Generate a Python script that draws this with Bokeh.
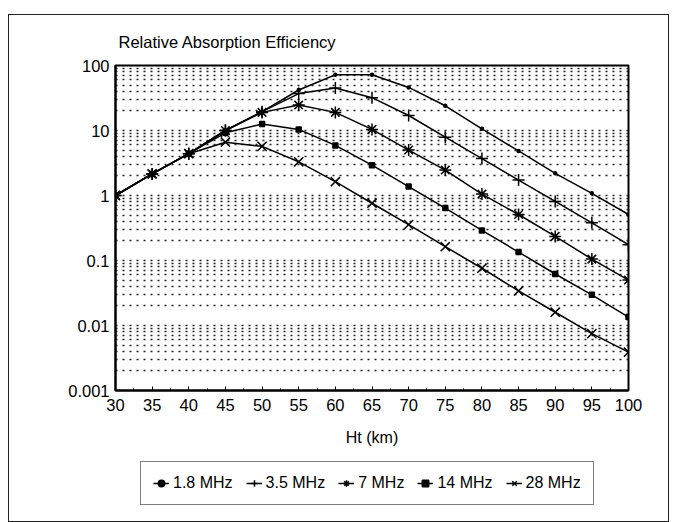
from bokeh.plotting import figure
from bokeh.layouts import column
from bokeh.models import FixedTicker, Legend, LegendItem, Range1d
from bokeh.embed import file_html
from bokeh.resources import INLINE

ht = [30, 35, 40, 45, 50, 55, 60, 65, 70, 75, 80, 85, 90, 95, 100]
f1_8 = [1, 2.15, 4.4, 10, 19.5, 42, 72, 72, 46, 24, 10.6, 4.85, 2.19, 1.08, 0.51]
f3_5 = [1, 2.15, 4.4, 10, 19.5, 37, 45, 32, 17, 7.9, 3.7, 1.73, 0.81, 0.38, 0.175]
f7 = [1, 2.15, 4.4, 10, 19, 24.6, 19, 10.4, 5.0, 2.46, 1.05, 0.51, 0.235, 0.105, 0.05]
f14 = [1, 2.15, 4.4, 9.2, 12.6, 10.4, 5.9, 2.93, 1.37, 0.64, 0.29, 0.135, 0.062, 0.0296, 0.0135]
f28 = [1, 2.15, 4.4, 6.6, 5.7, 3.3, 1.63, 0.76, 0.357, 0.163, 0.076, 0.034, 0.016, 0.0075, 0.0039]

series_labels = ["1.8 MHz", "3.5 MHz", "7 MHz", "14 MHz", "28 MHz"]
x_ticks = [30, 35, 40, 45, 50, 55, 60, 65, 70, 75, 80, 85, 90, 95, 100]
y_ticks = [0.001, 0.01, 0.1, 1, 10, 100]
y_tick_labels = ["0.001", "0.01", "0.1", "1", "10", "100"]

FONT = "Liberation Sans"

p = figure(
    width=659, height=440,
    y_axis_type="log",
    x_range=Range1d(30, 100), y_range=Range1d(0.001, 100),
    output_backend="svg", toolbar_location=None,
    min_border_left=106, min_border_right=40,
    min_border_top=48, min_border_bottom=65,
    title="Relative Absorption Efficiency",
)
p.background_fill_color = "white"
p.border_fill_color = "white"
p.outline_line_color = "black"
p.outline_line_width = 2

p.title.text_font = FONT
p.title.text_font_size = "16.5px"
p.title.text_font_style = "normal"
p.title.text_color = "black"
p.title.align = "left"
p.title.offset = 3
p.title.standoff = 30

# y axis
minor = []
for d in [0.001, 0.01, 0.1, 1, 10]:
    for k in range(2, 10):
        minor.append(d * k)
p.yaxis.ticker = FixedTicker(ticks=y_ticks, minor_ticks=minor)
p.yaxis.major_label_overrides = {t: l for t, l in zip(y_ticks, y_tick_labels)}
p.yaxis.major_tick_out = 0
p.yaxis.major_tick_in = 0
p.yaxis.minor_tick_out = 0
p.yaxis.minor_tick_in = 0
p.yaxis.major_label_standoff = 6
p.yaxis.major_label_text_font = FONT
p.yaxis.major_label_text_font_size = "16.5px"
p.yaxis.major_label_text_color = "black"
p.yaxis.axis_line_color = "black"
p.yaxis.axis_line_width = 2

# x axis
xminor = [v + 2.5 for v in x_ticks[:-1]]
p.xaxis.ticker = FixedTicker(ticks=x_ticks, minor_ticks=xminor)
p.xaxis.major_tick_out = 0
p.xaxis.major_tick_in = 4
p.xaxis.minor_tick_out = 0
p.xaxis.minor_tick_in = 2
p.xaxis.major_tick_line_color = "black"
p.xaxis.minor_tick_line_color = "black"
p.xaxis.major_label_standoff = 8
p.xaxis.major_label_text_font = FONT
p.xaxis.major_label_text_font_size = "16.5px"
p.xaxis.major_label_text_color = "black"
p.xaxis.axis_label = "Ht (km)"
p.xaxis.axis_label_text_font = FONT
p.xaxis.axis_label_text_font_size = "16px"
p.xaxis.axis_label_text_font_style = "normal"
p.xaxis.axis_label_text_color = "black"
p.xaxis.axis_label_standoff = 15
p.xaxis.axis_line_color = "black"
p.xaxis.axis_line_width = 2

# grids
p.xgrid.visible = False
p.ygrid.grid_line_color = "#222"
p.ygrid.grid_line_width = 1.5
p.ygrid.grid_line_dash = "2 5"
p.ygrid.minor_grid_line_color = "#222"
p.ygrid.minor_grid_line_width = 1.5
p.ygrid.minor_grid_line_dash = "2 5"

series = [f1_8, f3_5, f7, f14, f28]
markers = ["circle", "cross", "asterisk", "square", "x"]
sizes = [3, 12, 12, 5, 13]
for ys, mk, sz in zip(series, markers, sizes):
    p.line(ht, ys, line_color="black", line_width=1.5)
    p.scatter(ht, ys, marker=mk, size=sz, line_color="black",
              fill_color="black", line_width=1.5)

# legend strip below the chart (same series, drawn out of view; only the key shows)
lg = figure(width=659, height=66, x_range=Range1d(0, 1), y_range=Range1d(0, 1),
            output_backend="svg", toolbar_location=None,
            min_border=0, min_border_left=0, min_border_right=0,
            min_border_top=0, min_border_bottom=0)
lg.axis.visible = False
lg.grid.visible = False
lg.outline_line_color = None
lg.background_fill_color = "white"
lg.border_fill_color = "white"
items = []
for ys, mk, sz, lab in zip(series, markers, sizes, series_labels):
    ln = lg.line(ht, ys, line_color="black", line_width=1.5)
    sc = lg.scatter(ht, ys, marker=mk, size=min(sz, 10), line_color="black",
                    fill_color="black", line_width=1.5)
    items.append(LegendItem(label=lab, renderers=[ln, sc]))

legend = Legend(items=items, orientation="horizontal", location=(25, 16))
legend.label_text_font = FONT
legend.label_text_font_size = "16px"
legend.label_text_color = "black"
legend.border_line_color = "black"
legend.border_line_width = 1.5
legend.background_fill_color = "white"
legend.glyph_width = 16
legend.glyph_height = 16
legend.label_standoff = 4
legend.spacing = 13
legend.padding = 12
legend.margin = 0
lg.add_layout(legend, "center")

layout = column(p, lg, spacing=0)
layout.margin = (14, 0, 0, 8)
layout.styles = {"border": "1px solid #222"}

open("out.html", "w").write(file_html(layout, INLINE))
